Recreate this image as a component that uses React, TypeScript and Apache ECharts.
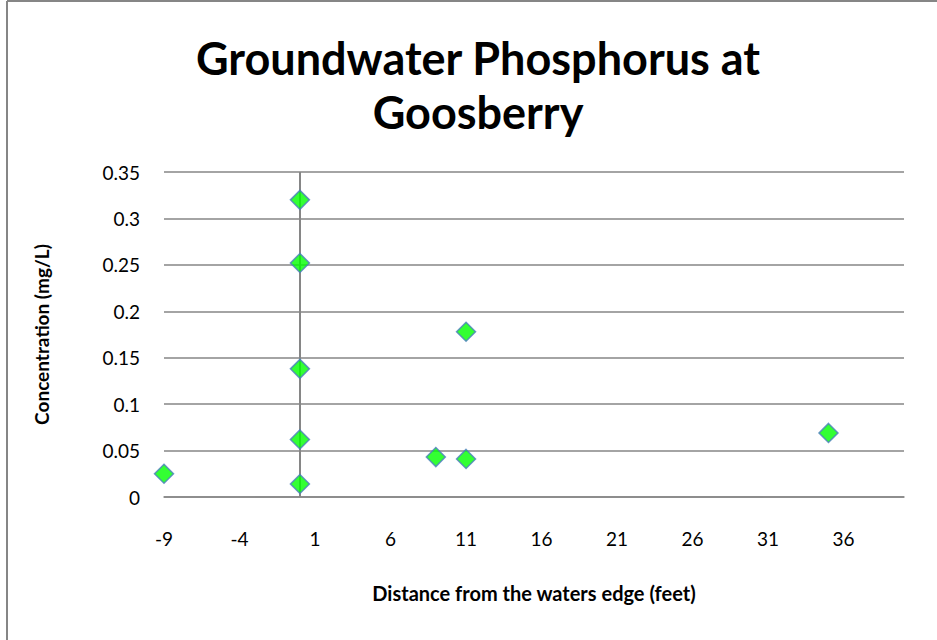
import React, { useEffect, useRef } from "react";
import * as echarts from "echarts";

const distances = [-9, 0, 0, 0, 0, 0, 9, 11, 11, 35];
const concentrations = [0.025, 0.014, 0.062, 0.138, 0.252, 0.32, 0.043, 0.178, 0.041, 0.069];
const titleText = "Groundwater Phosphorus at\nGoosberry";
const xName = "Distance from the waters edge (feet)";
const yName = "Concentration (mg/L)";

export default function App() {
  const ref = useRef<HTMLDivElement>(null);
  useEffect(() => {
    if (!ref.current) return;
    const chart = echarts.init(ref.current, null, { renderer: "svg" });
    const font = "Lato";
    chart.setOption({
      animation: false,
      backgroundColor: "#ffffff",
      grid: { left: 164, right: 33, top: 172, bottom: 143 },
      xAxis: {
        type: "value",
        min: -9,
        max: 40,
        interval: 5,
        name: xName,
        nameLocation: "middle",
        nameGap: 86,
        nameTextStyle: { fontFamily: font, fontWeight: "bold", fontSize: 20, color: "#000" },
        axisLine: { show: true, onZero: false, lineStyle: { color: "#868686", width: 1.5 } },
        axisTick: { show: false },
        splitLine: { show: false },
        axisLabel: {
          showMaxLabel: false,
          margin: 32,
          fontFamily: font,
          fontSize: 19,
          color: "#000",
        },
      },
      yAxis: {
        type: "value",
        min: 0,
        max: 0.35,
        interval: 0.05,
        name: yName,
        nameLocation: "middle",
        nameRotate: 90,
        nameGap: 113,
        nameTextStyle: { fontFamily: font, fontWeight: "bold", fontSize: 19, color: "#000" },
        axisLine: { show: false, onZero: false },
        axisTick: { show: false },
        splitLine: { show: true, lineStyle: { color: "#868686", width: 1.5 } },
        axisLabel: {
          margin: 24,
          fontFamily: font,
          fontSize: 19,
          color: "#000",
          formatter: (v: number) => String(Number(v.toFixed(2))),
        },
      },
      graphic: [
        {
          type: "text",
          x: 478,
          y: 85,
          style: {
            text: titleText,
            font: `bold 45px ${font}`,
            fill: "#000",
            align: "center",
            verticalAlign: "middle",
            lineHeight: 54,
          },
        },
        { type: "line", shape: { x1: 7, y1: 1, x2: 937, y2: 1 }, style: { stroke: "#868686", lineWidth: 2 } },
        { type: "line", shape: { x1: 7, y1: 1, x2: 7, y2: 640 }, style: { stroke: "#868686", lineWidth: 2 } },
      ],
      series: [
        {
          type: "scatter",
          data: distances.map((d, i) => [d, concentrations[i]]),
          symbol: "diamond",
          symbolSize: 19,
          itemStyle: { color: "#00ff00", borderColor: "#4a7ebb", borderWidth: 1.5 },
          markLine: {
            silent: true,
            symbol: "none",
            label: { show: false },
            lineStyle: { color: "#868686", width: 2, type: "solid" },
            data: [{ xAxis: 0 }],
            z: 1,
          },
          z: 3,
        },
      ],
    });
    return () => chart.dispose();
  }, []);
  return (
    <div
      ref={ref}
      style={{ position: "absolute", left: 0, top: 0, width: 937, height: 640 }}
    />
  );
}
